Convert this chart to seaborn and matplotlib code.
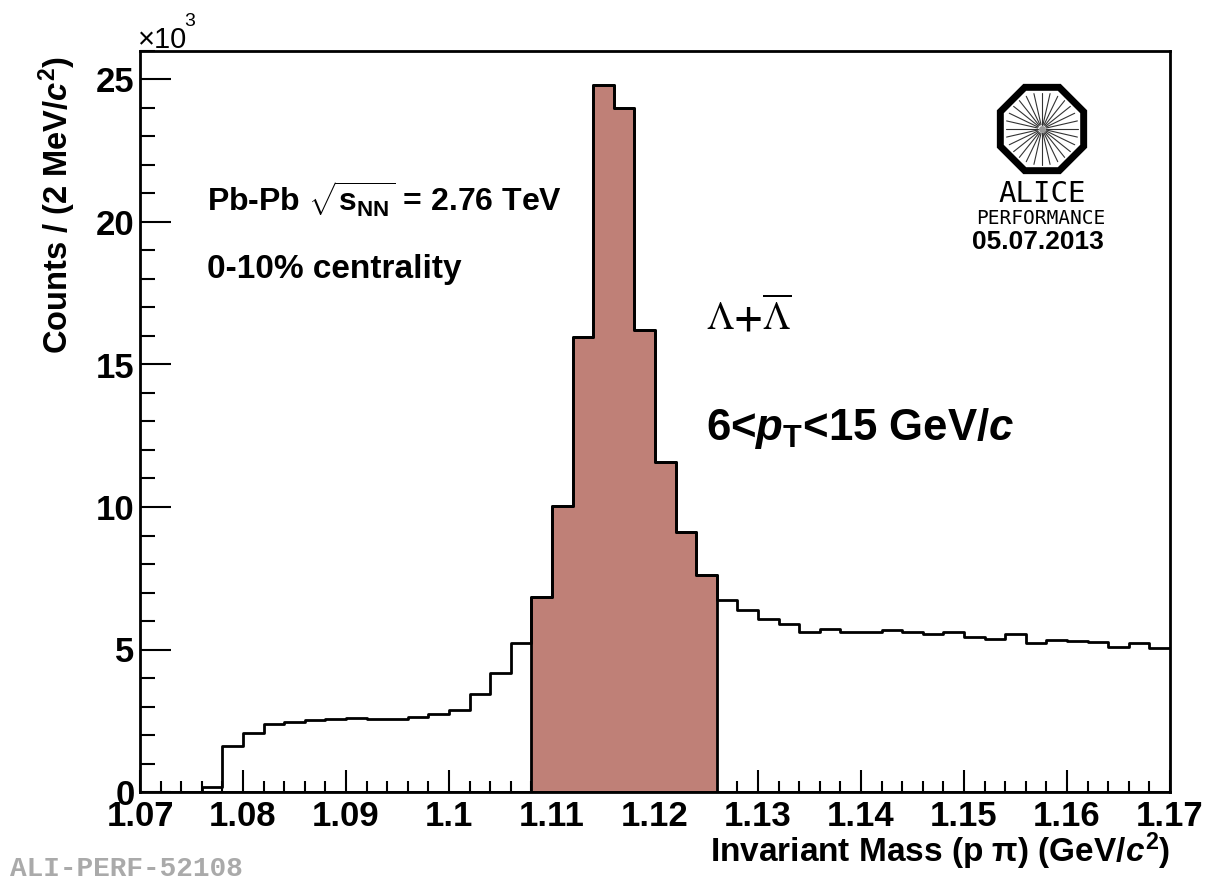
import numpy as np
import pandas as pd
import matplotlib
matplotlib.use("Agg")
import matplotlib.pyplot as plt
import seaborn as sns
from matplotlib.patches import RegularPolygon
from matplotlib.ticker import MultipleLocator, FuncFormatter

# ---------------- data ----------------
mass_min = 1.07          # GeV/c^2
mass_max = 1.17
bin_width = 0.002        # 2 MeV/c^2
counts_thousands = [
    0.0, 0.0, 0.0, 0.18, 1.61, 2.06, 2.37, 2.46, 2.53, 2.57,
    2.61, 2.55, 2.57, 2.63, 2.74, 2.89, 3.45, 4.16, 5.23, 6.84,
    10.04, 15.97, 24.79, 24.01, 16.20, 11.57, 9.13, 7.61, 6.72, 6.38,
    6.08, 5.89, 5.63, 5.72, 5.63, 5.63, 5.68, 5.63, 5.53, 5.60,
    5.45, 5.36, 5.53, 5.24, 5.32, 5.30, 5.26, 5.10, 5.23, 5.05,
]
signal_window = (1.108, 1.126)
x_tick_step = 0.01
y_tick_step_k = 5

# ---------------- frame ----------------
W, H = 1229, 880
sns.set_style("ticks")
plt.rcParams["font.family"] = ["Liberation Sans", "DejaVu Sans"]
plt.rcParams["mathtext.fontset"] = "custom"
plt.rcParams["mathtext.rm"] = "Liberation Sans:bold"
plt.rcParams["mathtext.it"] = "Liberation Sans:italic:bold"
plt.rcParams["mathtext.bf"] = "Liberation Sans:bold"
for key in ["text.color", "axes.labelcolor", "xtick.color", "ytick.color",
            "axes.edgecolor"]:
    plt.rcParams[key] = "black"

edges = [round(mass_min + bin_width * i, 4) for i in range(len(counts_thousands) + 1)]
centers = np.array(edges[:-1]) + bin_width / 2
df = pd.DataFrame({"mass": centers, "counts": np.array(counts_thousands) * 1000.0})
df["signal"] = (df["mass"] > signal_window[0]) & (df["mass"] < signal_window[1])

fig = plt.figure(figsize=(W / 100, H / 100), dpi=100)
fig.patch.set_facecolor("white")

def px(x, y):
    return x / W, 1 - y / H

ax = fig.add_axes([140 / W, 88 / H, 1030 / W, 741 / H])

fill_color = "#bf8077"
sns.histplot(data=df[df["signal"]], x="mass", weights="counts", bins=edges,
             element="step", fill=True, facecolor=fill_color, alpha=1,
             edgecolor="black", linewidth=2, ax=ax, zorder=2)
sns.histplot(data=df, x="mass", weights="counts", bins=edges,
             element="step", fill=False, color="black", linewidth=2,
             ax=ax, zorder=3)

ax.set_xlim(mass_min, mass_max)
ax.set_ylim(0, 26000)
for s in ax.spines.values():
    s.set_visible(True)
    s.set_linewidth(2)
    s.set_color("black")

ax.xaxis.set_major_locator(MultipleLocator(x_tick_step))
ax.xaxis.set_minor_locator(MultipleLocator(bin_width))
ax.yaxis.set_major_locator(MultipleLocator(y_tick_step_k * 1000))
ax.yaxis.set_minor_locator(MultipleLocator(1000))
ax.xaxis.set_major_formatter(FuncFormatter(lambda v, p: f"{v:g}"))
ax.yaxis.set_major_formatter(FuncFormatter(lambda v, p: f"{v/1000:g}"))
ax.tick_params(axis="both", which="both", direction="in", top=False, right=False,
               color="black", labelcolor="black", width=1.5)
ax.tick_params(axis="x", which="major", length=16, pad=6, labelsize=25)
ax.tick_params(axis="x", which="minor", length=8)
ax.tick_params(axis="y", which="major", length=22, pad=4, labelsize=25)
ax.tick_params(axis="y", which="minor", length=11)
for lab in ax.get_xticklabels() + ax.get_yticklabels():
    lab.set_fontweight("bold")

ax.set_xlabel(r"Invariant Mass (p $\mathrm{\pi}$) (GeV/$\mathit{c}^{2}$)", fontsize=24,
              fontweight="bold", loc="right")
ax.xaxis.set_label_coords(1.0, -0.052)
ax.set_ylabel(r"Counts / (2 MeV/$\mathit{c}^{2}$)", fontsize=23.5,
              fontweight="bold", loc="top")
ax.yaxis.set_label_coords(-0.06, 0.993)

# exponent
fig.text(*px(138, 48), "×10", fontsize=21, ha="left", va="baseline")
fig.text(*px(184, 26), "3", fontsize=14, ha="left", va="baseline")

# annotations
fig.text(*px(207, 212), r"Pb-Pb $\sqrt{\mathrm{s}_{\mathrm{NN}}}$ = 2.76 TeV",
         fontsize=23, fontweight="bold", ha="left", va="baseline")
fig.text(*px(207, 278), "0-10% centrality", fontsize=24, fontweight="bold",
         ha="left", va="baseline")
fig.text(*px(706, 330), r"$\mathrm{\Lambda}\mathbf{+}\overline{\mathrm{\Lambda}}$",
         fontsize=28, ha="left", va="baseline", math_fontfamily="stix")
fig.text(*px(706, 440), r"6<$\mathit{p}_{\mathrm{T}}$<15 GeV/$\mathit{c}$",
         fontsize=31.5, fontweight="bold", ha="left", va="baseline")

# ALICE performance logo
lax = fig.add_axes([987 / W, (H - 184) / H, 110 / W, 110 / H])
lax.set_xlim(-1, 1)
lax.set_ylim(-1, 1)
lax.axis("off")
lax.add_patch(RegularPolygon((0, 0), numVertices=8, radius=0.82,
                             orientation=np.pi / 8, facecolor="white",
                             edgecolor="black", linewidth=5))
for ang in np.linspace(0, 2 * np.pi, 28, endpoint=False):
    lax.plot([0.08 * np.cos(ang), 0.66 * np.cos(ang)],
             [0.08 * np.sin(ang), 0.66 * np.sin(ang)],
             color="#333333", linewidth=0.8)
lax.plot(0, 0, "o", color="#999999", markersize=4)
fig.text(*px(1042, 202), "ALICE", fontsize=21, family="DejaVu Sans Mono",
         ha="center", va="baseline")
fig.text(*px(1041, 224), "PERFORMANCE", fontsize=14, family="DejaVu Sans Mono",
         ha="center", va="baseline")
fig.text(*px(1038, 249), "05.07.2013", fontsize=19, fontweight="bold",
         ha="center", va="baseline")

fig.text(*px(10, 876), "ALI-PERF-52108", fontsize=20, family="Liberation Mono",
         fontweight="bold", color="#aaaaaa", ha="left", va="baseline")

fig.savefig("out.png", dpi=100, facecolor="white")
